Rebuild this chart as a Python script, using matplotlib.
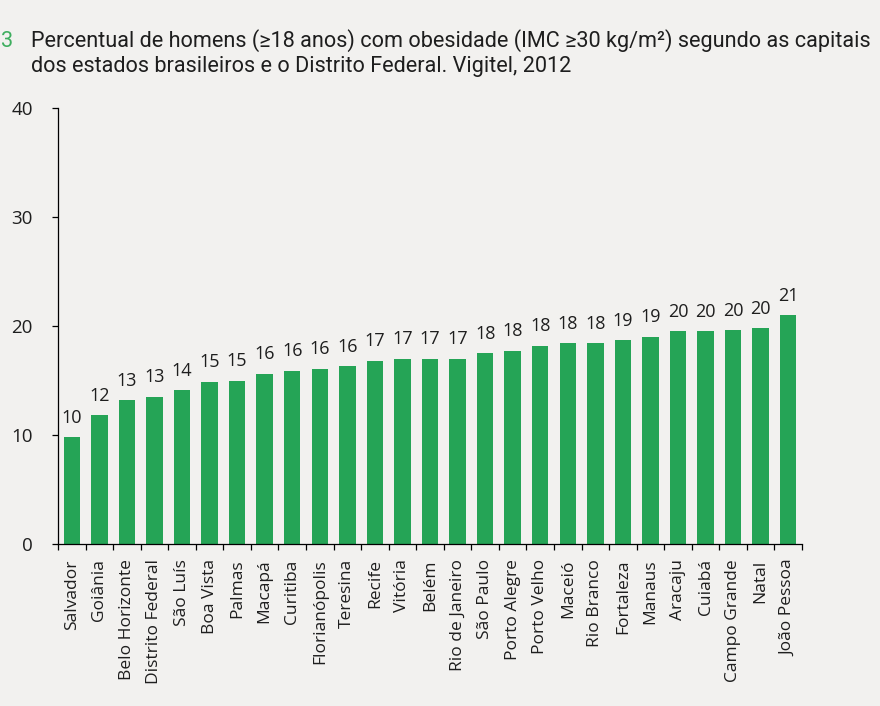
import matplotlib
matplotlib.use("Agg")
import matplotlib.pyplot as plt
from matplotlib import font_manager

cities = ['Salvador', 'Goiânia', 'Belo Horizonte', 'Distrito Federal', 'São Luís',
          'Boa Vista', 'Palmas', 'Macapá', 'Curitiba', 'Florianópolis', 'Teresina',
          'Recife', 'Vitória', 'Belém', 'Rio de Janeiro', 'São Paulo', 'Porto Alegre',
          'Porto Velho', 'Maceió', 'Rio Branco', 'Fortaleza', 'Manaus', 'Aracaju',
          'Cuiabá', 'Campo Grande', 'Natal', 'João Pessoa']
values = [9.8, 11.8, 13.2, 13.5, 14.1, 14.9, 15.0, 15.6, 15.9, 16.1, 16.3,
          16.8, 17.0, 17.0, 17.0, 17.5, 17.7, 18.2, 18.4, 18.4, 18.7, 19.0,
          19.5, 19.5, 19.6, 19.8, 21.0]
value_labels = ['10', '12', '13', '13', '14', '15', '15', '16', '16', '16', '16',
                '17', '17', '17', '17', '18', '18', '18', '18', '18', '19', '19',
                '20', '20', '20', '20', '21']
y_ticks = [0, 10, 20, 30, 40]

title_l1 = 'Percentual de homens (≥18 anos) com obesidade (IMC ≥30 kg/m²) segundo as capitais'
title_l2 = 'dos estados brasileiros e o Distrito Federal. Vigitel, 2012'

bg = '#f2f1ef'
green = '#25a456'
txt = '#1e1e1e'

names = {f.name for f in font_manager.fontManager.ttflist}
title_font = 'Liberation Sans Narrow' if 'Liberation Sans Narrow' in names else 'Roboto'
label_font = 'Open Sans' if 'Open Sans' in names else 'DejaVu Sans'

fig = plt.figure(figsize=(8.8, 7.06), dpi=100, facecolor=bg)
ax = fig.add_axes([58 / 880, 1 - 544 / 706, (802 - 58) / 880, 436 / 706])
ax.set_facecolor(bg)

x = range(len(cities))
ax.bar(x, values, width=0.6, color=green, zorder=2)

for i, (v, lab) in enumerate(zip(values, value_labels)):
    ax.annotate(lab, (i, v), xytext=(0, 10.5), textcoords='offset points',
                ha='center', va='baseline', fontsize=13, color=txt,
                family=[label_font, 'DejaVu Sans'])

ax.set_xlim(-0.5, len(cities) - 0.5)
ax.set_ylim(0, 40)
ax.set_yticks(y_ticks)
ax.set_yticklabels([str(t) for t in y_ticks], fontsize=13.5, color=txt,
                   family=[label_font, 'DejaVu Sans'])
ax.tick_params(axis='y', length=4, width=0.9, pad=14, color='black')

# labels at bar centres, tick marks at the boundaries
ax.set_xticks(list(x))
ax.set_xticklabels(cities, rotation=90, fontsize=12.5, color=txt, va='top', ha='center',
                   family=[label_font, 'DejaVu Sans'])
ax.set_xticks([i - 0.5 for i in range(len(cities) + 1)], minor=True)
ax.tick_params(axis='x', which='major', length=0, pad=11)
ax.tick_params(axis='x', which='minor', length=4, width=0.9, color='black')

for s in ['top', 'right']:
    ax.spines[s].set_visible(False)
for s in ['left', 'bottom']:
    ax.spines[s].set_linewidth(0.9)
    ax.spines[s].set_color('black')

# title: two lines, sized so that the first line spans the same width as the original
t1 = fig.text(31 / 880, 1 - 47 / 706, title_l1, fontsize=16, color=txt,
              family=[title_font, 'DejaVu Sans'], va='baseline', ha='left')
fig.canvas.draw()
w = t1.get_window_extent().width
size = 16 * (870 - 31) / w
t1.set_fontsize(size)
fig.text(31 / 880, 1 - 72 / 706, title_l2, fontsize=size, color=txt,
         family=[title_font, 'DejaVu Sans'], va='baseline', ha='left')
fig.text(1 / 880, 1 - 47 / 706, '3', fontsize=size, color='#3fae5f',
         family=[title_font, 'DejaVu Sans'], va='baseline', ha='left')

fig.savefig('out.png', dpi=100, facecolor=bg)
